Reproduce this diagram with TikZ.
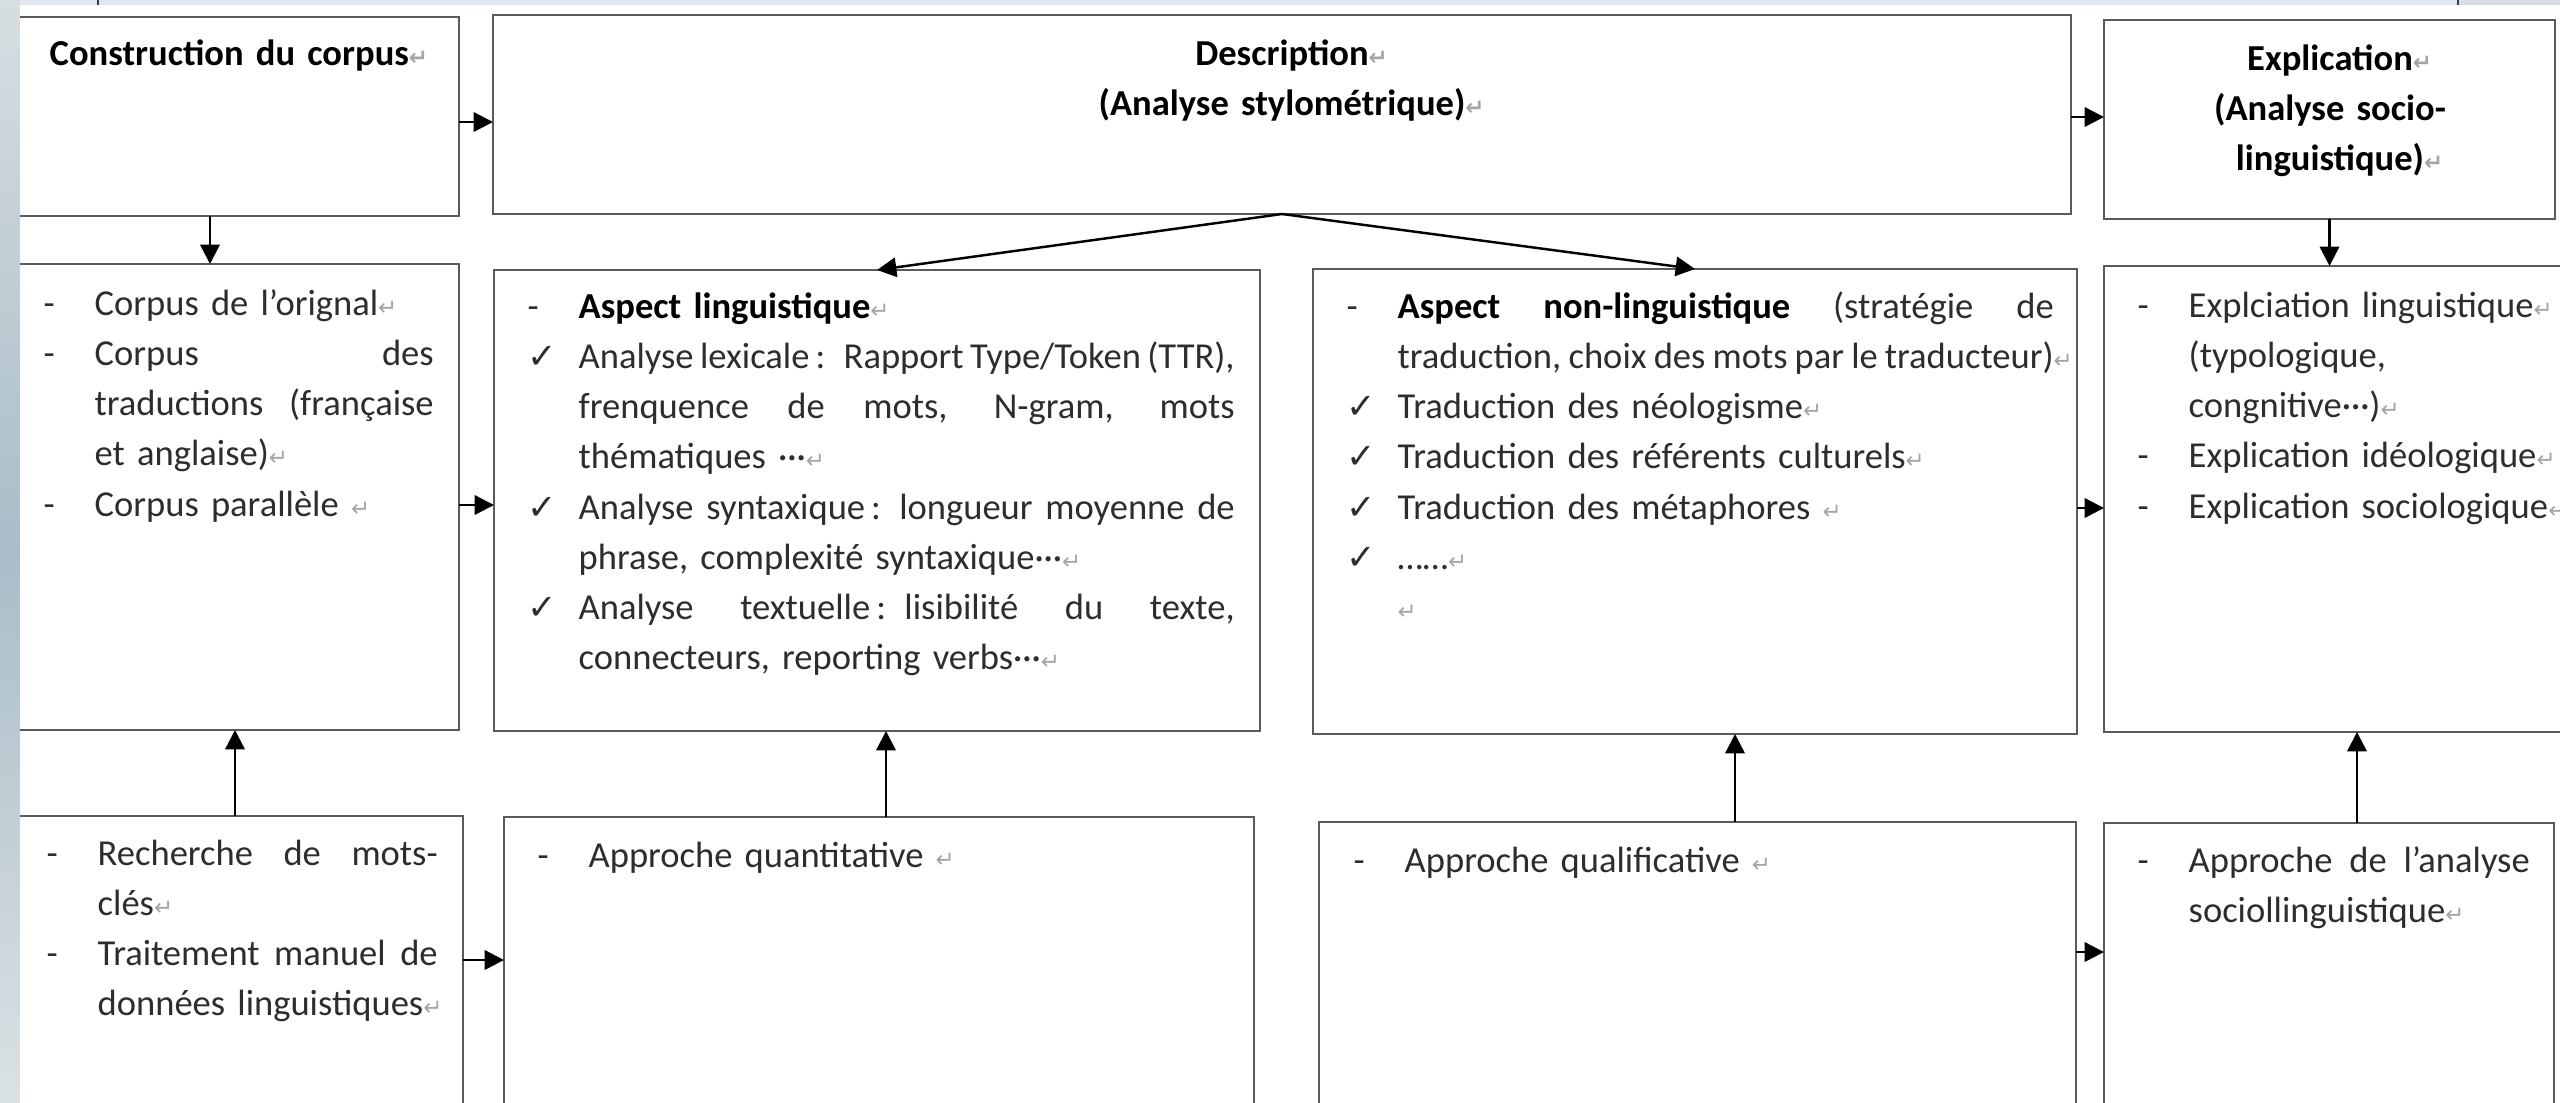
\documentclass[tikz,border=0pt]{standalone}
\usepackage{fontspec}
\setmainfont{Carlito}
\newfontfamily\symbfont{DejaVu Sans}
\usetikzlibrary{arrows.meta, positioning}
\definecolor{framegray}{RGB}{90,90,90}
\definecolor{inkgray}{RGB}{45,45,45}
\definecolor{markgray}{RGB}{165,165,165}
\definecolor{stripblue}{RGB}{170,189,200}
\definecolor{striplight}{RGB}{214,222,225}
\definecolor{pagetop}{RGB}{225,231,238}
\definecolor{tickblue}{RGB}{45,60,80}

\newdimen\jw
\newcommand{\bodyfont}{\fontsize{10.4}{14.3}\selectfont}
\newcommand{\ret}{\rlap{\color{markgray}\symbfont\fontsize{6.5}{6.5}\selectfont ↵}}
\newcommand{\chk}{{\symbfont\fontsize{10}{10}\selectfont ✓}}
\newcommand{\itm}[2]{\hangindent=0.51cm\hangafter=1\noindent\makebox[0.51cm][l]{#1}#2\par}
% justified line of width \jw
\newcommand{\jl}[1]{\hbox to \jw{\spaceskip=\fontdimen2\font plus 1fil minus 0.4\fontdimen2\font #1}\newline}
\newcommand{\fl}[1]{\hbox to \jw{\spaceskip=\fontdimen2\font plus 1fil minus 0.4\fontdimen2\font #1}}

\begin{document}
\begin{tikzpicture}[>={Triangle[length=5.5pt,width=5.5pt]},
    box/.style 2 args={draw=framegray, line width=0.6pt, anchor=north west, inner sep=0pt, outer sep=0pt, minimum width=#1, minimum height=#2},
    txt/.style={anchor=base west, inner sep=0pt, text width=#1, align=left, text=inkgray, font=\bodyfont},
    title/.style={inner sep=0pt, text=black, font=\bodyfont\bfseries},
    arr/.style={->, line width=0.7pt, black}]
    \path[use as bounding box, clip] (0,0) rectangle (25.6,-11.02);

    % Boxes, top row
    \node[box={4.54cm}{1.99cm}] (corpus) at (0.05,-0.17) {};
    \node[box={15.78cm}{1.99cm}] (descr) at (4.93,-0.15) {};
    \node[box={4.51cm}{1.99cm}] (explic) at (21.04,-0.20) {};

    % Boxes, middle row
    \node[box={4.54cm}{4.66cm}] (corpora) at (0.05,-2.64) {};
    \node[box={7.66cm}{4.61cm}] (aspling) at (4.94,-2.70) {};
    \node[box={7.64cm}{4.65cm}] (aspnonling) at (13.13,-2.69) {};
    \node[box={4.80cm}{4.66cm}] (explist) at (21.04,-2.66) {};

    % Boxes, bottom row
    \node[box={4.58cm}{3.4cm}] (recherche) at (0.05,-8.16) {};
    \node[box={7.50cm}{3.4cm}] (quanti) at (5.04,-8.17) {};
    \node[box={7.57cm}{3.4cm}] (quali) at (13.19,-8.22) {};
    \node[box={4.50cm}{3.4cm}] (socioappr) at (21.04,-8.23) {};

    % Titles
    \node[title, anchor=base west, text width=4cm, align=left] (corpustitle) at (0.49,-0.65) {Construction du corpus\ret};
    \node[title, anchor=base, text width=15cm, align=center] (descrtitle) at (12.82,-0.65) {Description\ret\\(Analyse stylométrique)\ret};
    \node[title, anchor=base, text width=4.4cm, align=center] (explictitle) at (23.30,-0.70) {Explication\ret\\(Analyse socio-\\linguistique)\ret};

    % Lists
    \node[txt=3.90cm] (corporatxt) at (0.43,-3.15) {\jw=3.39cm
      \itm{-}{Corpus de l’orignal\ret}%
      \itm{-}{\jl{Corpus des}\jl{traductions (française}et anglaise)\ret}%
      \itm{-}{Corpus parallèle \ret}};
    \node[txt=7.07cm] (asplingtxt) at (5.27,-3.18) {\jw=6.56cm
      \itm{-}{\textbf{\color{black}Aspect linguistique}\ret}%
      \itm{\chk}{\jl{Analyse lexicale\,: Rapport Type/Token (TTR),}\jl{frenquence de mots, N-gram, mots}thématiques ···\ret}%
      \itm{\chk}{\jl{Analyse syntaxique\,: longueur moyenne de}phrase, complexité syntaxique···\ret}%
      \itm{\chk}{\jl{Analyse textuelle\,: lisibilité du texte,}connecteurs, reporting verbs···\ret}};
    \node[txt=7.07cm] (aspnonlingtxt) at (13.46,-3.18) {\jw=6.56cm
      \itm{-}{\jl{\textbf{\color{black}Aspect non-linguistique} (stratégie de}\fl{traduction, choix des mots par le traducteur)}\ret}%
      \itm{\chk}{Traduction des néologisme\ret}%
      \itm{\chk}{Traduction des référents culturels\ret}%
      \itm{\chk}{Traduction des métaphores \ret}%
      \itm{\chk}{……\ret}%
      \itm{}{\ret}};
    \node[txt=4.4cm] (explisttxt) at (21.37,-3.17) {%
      \itm{-}{Explciation linguistique\ret\newline(typologique,\newline congnitive···)\ret}%
      \itm{-}{Explication idéologique\ret}%
      \itm{-}{Explication sociologique\ret}};
    \node[txt=3.91cm] (recherchetxt) at (0.46,-8.65) {\jw=3.40cm
      \itm{-}{\jl{Recherche de mots-}clés\ret}%
      \itm{-}{\jl{Traitement manuel de}données linguistiques\ret}};
    \node[txt=6cm] (quantitxt) at (5.37,-8.67) {\itm{-}{Approche quantitative \ret}};
    \node[txt=6cm] (qualitxt) at (13.53,-8.72) {\itm{-}{Approche qualificative \ret}};
    \node[txt=3.92cm] (socioapprtxt) at (21.37,-8.72) {\jw=3.41cm
      \itm{-}{\jl{Approche de l’analyse}sociollinguistique\ret}};

    % Connectors
    \draw[arr] ([yshift=-0.055cm]corpus.east) -- ([yshift=-0.055cm]corpus.east -| descr.west);
    \draw[arr] ([yshift=-0.025cm]descr.east) -- ([yshift=-0.025cm]descr.east -| explic.west);
    \draw[arr] ([xshift=-0.22cm]corpus.south) -- ([xshift=-0.22cm]corpus.south |- corpora.north);
    \draw[arr] (descr.south) -- (aspling.north);
    \draw[arr] (descr.south) -- (aspnonling.north);
    \draw[arr] (explic.south) -- (explic.south |- explist.north);
    \draw[arr] ([yshift=-0.08cm]corpora.east) -- ([yshift=-0.08cm]corpora.east -| aspling.west);
    \draw[arr] ([yshift=-0.065cm]aspnonling.east) -- ([yshift=-0.065cm]aspnonling.east -| explist.west);
    \draw[arr] ([xshift=0.01cm]recherche.north) -- ([xshift=0.01cm]recherche.north |- corpora.south);
    \draw[arr] ([xshift=0.07cm]quanti.north) -- ([xshift=0.07cm]quanti.north |- aspling.south);
    \draw[arr] ([xshift=0.375cm]quali.north) -- ([xshift=0.375cm]quali.north |- aspnonling.south);
    \draw[arr] ([xshift=0.28cm]socioappr.north) -- ([xshift=0.28cm]socioappr.north |- explist.south);
    \draw[arr] ([yshift=-1.44cm]recherche.north east) -- ([yshift=-1.44cm]recherche.north east -| quanti.west);
    \draw[arr] ([yshift=-1.30cm]quali.north east) -- ([yshift=-1.30cm]quali.north east -| socioappr.west);

    % Page edges
    \fill[pagetop] (0,0) rectangle (25.6,-0.05);
    \fill[pagetop!90!gray] (24.58,0) rectangle (25.6,-0.05);
    \draw[tickblue, line width=0.6pt] (0.98,0) -- (0.98,-0.05);
    \draw[tickblue, line width=0.6pt] (24.58,0) -- (24.58,-0.05);
    \shade[top color=striplight, bottom color=striplight!90!white, middle color=stripblue] (0,0) rectangle (0.2,-11.02);
\end{tikzpicture}
\end{document}
